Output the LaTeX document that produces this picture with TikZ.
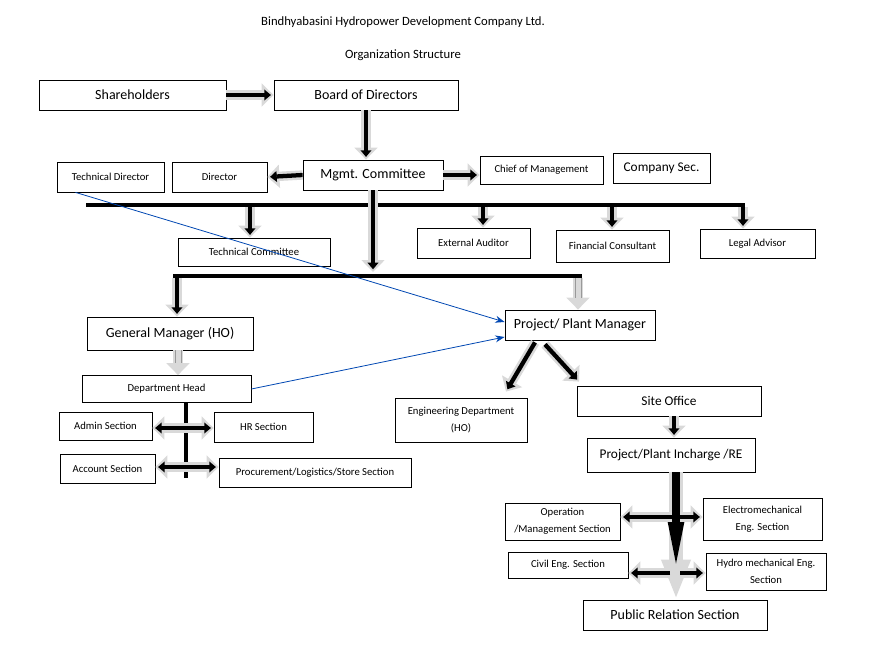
\documentclass[tikz,border=0pt]{standalone}
\usepackage{fontspec}
\setmainfont{Carlito}
\usetikzlibrary{arrows.meta,calc}
\newcommand\barr[2]{%
 \draw[black!15,line width=7pt,-{Triangle[length=9pt,width=17pt]}] #1 -- #2;
 \draw[black,line width=3.2pt,shorten >=2pt,-{Triangle[length=5pt,width=8pt]}] #1 -- #2;}
\newcommand\garr[2]{%
 \draw[black!15,line width=7pt,-{Triangle[length=9pt,width=17pt]}] #1 -- #2;
 \draw[black!40,line width=0.6pt,shorten >=9pt] ($#1+(2.2pt,0)$) -- ($#2+(2.2pt,0)$);
 \draw[black!40,line width=0.6pt,shorten >=9pt] ($#1-(2.2pt,0)$) -- ($#2-(2.2pt,0)$);}
\begin{document}
\begin{tikzpicture}[x=0.75pt,y=-0.75pt,
 bx/.style={draw,line width=0.6pt,minimum height=#1*0.75pt,inner sep=1pt,align=center,font=\fontsize{8}{10}\selectfont},
 bx/.default=30,
 two/.style={font=\fontsize{8}{13}\selectfont},
 big/.style={font=\fontsize{10.5}{12}\selectfont},
 mid/.style={font=\fontsize{10}{12}\selectfont},
 bar/.style={line width=2.6pt},
 blue/.style={draw=blue!60!cyan!70!black,line width=0.6pt,-{Stealth[length=7pt]}}]
\useasboundingbox (0,0) rectangle (880,645);
\node[font=\fontsize{9.5}{11}\selectfont] (t1) at (403,22) {Bindhyabasini Hydropower Development Company Ltd.};
\node[font=\fontsize{9.5}{11}\selectfont] (t2) at (403,55) {Organization Structure};
\node[bx,big,minimum width=187*0.75pt] (sh) at (132.5,95) {Shareholders};
\node[bx,big,minimum width=184*0.75pt] (bd) at (366,95) {Board of Directors};
\node[bx,minimum width=107*0.75pt] (td) at (110.5,177) {Technical Director};
\node[bx,minimum width=95*0.75pt] (dr) at (219.5,177) {Director};
\node[bx,big,minimum width=140*0.75pt] (mc) at (373,175) {Mgmt. Committee};
\node[bx=28,minimum width=123*0.75pt] (cm) at (541.5,170) {Chief of Management};
\node[bx=30,mid,minimum width=97*0.75pt] (cs) at (661.5,168) {Company Sec.};
\node[bx=28,minimum width=152*0.75pt] (tc) at (254,252) {Technical Committee};
\node[bx=30,minimum width=113*0.75pt] (ea) at (473.5,243) {External Auditor};
\node[bx=32,minimum width=113*0.75pt] (fc) at (612.5,246) {Financial Consultant};
\node[bx=29,minimum width=115*0.75pt] (la) at (757.5,243.5) {Legal Advisor};
\node[bx=33,big,minimum width=166*0.75pt] (gm) at (170,333.5) {General Manager (HO)};
\node[bx=30,big,minimum width=150*0.75pt] (pm) at (580,325) {Project/ Plant Manager};
\node[bx=27,minimum width=169*0.75pt] (dh) at (166.5,389) {Department Head};
\node[bx=44,two,minimum width=132*0.75pt] (ed) at (461,420) {Engineering Department\\(HO)};
\node[bx=30,mid,minimum width=184*0.75pt] (so) at (669,401) {Site Office};
\node[bx=28,minimum width=93*0.75pt] (ad) at (105.5,426) {Admin Section};
\node[bx=30,minimum width=99*0.75pt] (hr) at (263.5,427) {HR Section};
\node[bx=29,minimum width=95*0.75pt] (ac) at (107.5,468.5) {Account Section};
\node[bx=29,minimum width=192*0.75pt] (pr) at (315,472.5) {Procurement/Logistics/Store Section};
\node[bx=34,mid,minimum width=168*0.75pt] (pi) at (671,455) {Project/Plant Incharge /RE};
\node[bx=37,two,minimum width=115*0.75pt] (op) at (562.5,521.5) {Operation\\/Management Section};
\node[bx=42,two,minimum width=119*0.75pt] (em) at (762.5,519) {Electromechanical\\Eng. Section};
\node[bx=26,minimum width=120*0.75pt] (ce) at (568,565) {Civil Eng. Section};
\node[bx=37,two,minimum width=120*0.75pt] (hm) at (766,571.5) {Hydro mechanical Eng.\\Section};
\node[bx=30,big,minimum width=184*0.75pt] (ps) at (675,615) {Public Relation Section};
% bars
\coordinate (b1l) at (86,205); \coordinate (b1r) at (745,205);
\draw[bar] (b1l) -- (b1r);
\coordinate (b2l) at (173,276); \coordinate (b2r) at (582,276);
\draw[bar] (b2l) -- (b2r);
% arrows
\barr{(sh.east)}{(bd.west)}
\barr{(bd.south)}{($(mc.north)+(-7,0)$)}
\barr{(mc.west)}{(dr.east)}
\barr{(mc.east)}{(cm.west |- mc.east)}
\barr{(250,207)}{(tc.north -| 250,0)}
\barr{(483,207)}{(ea.north -| 483,0)}
\barr{(612,207)}{(fc.north -| 612,0)}
\barr{(743,207)}{(la.north -| 743,0)}
\barr{(mc.south)}{(373,272)}
\barr{(177,278)}{(gm.north -| 177,0)}
\garr{(578,278)}{(pm.north -| 578,0)}
\garr{(gm.south -| 178,0)}{(dh.north -| 178,0)}
\barr{($(pm.south)+(-45,2)$)}{($(ed.north)+(45,-6)$)}
\barr{($(pm.south)+(-35,4)$)}{($(so.north)+(-90,-4)$)}
\barr{(so.south -| 674,0)}{(pi.north -| 674,0)}
\coordinate (dj) at (186,428); \coordinate (dk) at (186,467);
\draw[line width=3pt] (dh.south -| 186,0) -- (186,478);
\barr{(dj)}{(ad.east |- dj)}
\barr{(dj)}{(hr.west |- dj)}
\barr{(dk)}{(ac.east |- dk)}
\barr{(dk)}{(pr.west |- dk)}
\draw[black!15,line width=10pt,-{Triangle[length=30pt,width=20pt]}] (pi.south -| 676,0) -- (ps.north -| 676,0);
\draw[black,line width=6pt,shorten >=22pt,-{Triangle[length=40pt,width=12pt]}] (pi.south -| 676,0) -- (ps.north -| 676,0);
\coordinate (r1) at (672,517); \coordinate (r1b) at (680,517);
\coordinate (r2) at (670,573); \coordinate (r2b) at (680,573);
\barr{(r1)}{(op.east |- r1)}
\barr{(r1b)}{(em.west |- r1b)}
\barr{(r2)}{(ce.east |- r2)}
\barr{(r2b)}{(hm.west |- r2b)}
% blue
\draw[blue] ($(td.south)+(-35,0)$) -- ($(pm.west)+(0,-3)$);
\draw[blue] (dh.east) -- ($(pm.west)+(0,12)$);
\end{tikzpicture}
\end{document}
